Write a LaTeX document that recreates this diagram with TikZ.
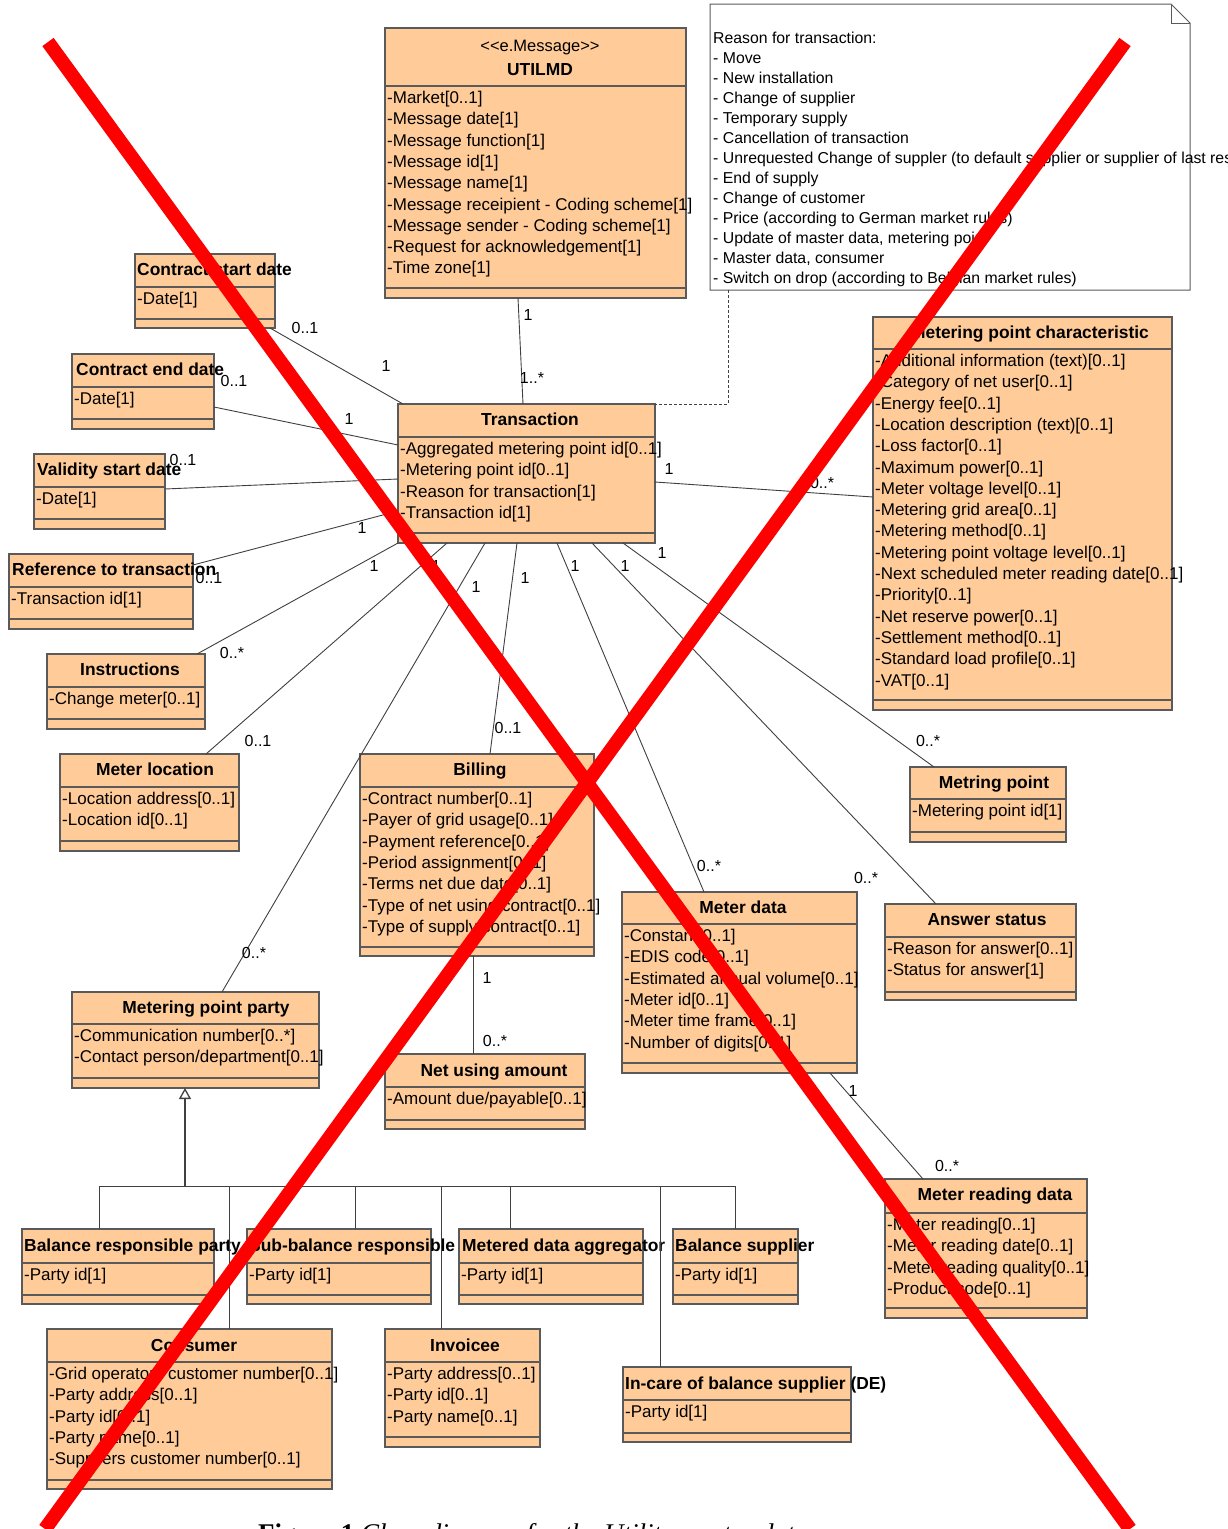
\documentclass[tikz,border=0pt]{standalone}
\usepackage{fontspec}
\setmainfont{Liberation Sans}
\newfontfamily\capfont{Liberation Serif}
\usetikzlibrary{arrows.meta,calc}
\definecolor{peach}{HTML}{FFCC99}
\definecolor{boxline}{HTML}{5A5A5A}
\definecolor{connline}{HTML}{404040}
\tikzset{
  clsbox/.style={draw=boxline, fill=peach, line width=1.2pt, inner sep=0pt, outer sep=0pt},
  sepline/.style={draw=boxline, line width=1.2pt},
  attr/.style={anchor=base west, inner sep=0pt, font=\fontsize{17}{20}\selectfont},
  ttl/.style={anchor=base, inner sep=0pt, font=\bfseries\fontsize{17.4}{20}\selectfont},
  ttlL/.style={anchor=base west, inner sep=0pt, font=\bfseries\fontsize{17.4}{20}\selectfont},
  mult/.style={inner sep=0pt, font=\fontsize{16}{18}\selectfont},
  conn/.style={draw=connline, line width=0.9pt},
  notebox/.style={draw=boxline, line width=1pt, fill=white},
  notetxt/.style={anchor=base west, inner sep=0pt, font=\fontsize{15.8}{18}\selectfont},
  redx/.style={draw=red, line width=14pt},
}
% #1 name, #2 x1, #3 y1, #4 x2, #5 y2, #6 header separator y, #7 bottom separator y, #8 attributes
\newcommand{\umlcls}[8]{%
  \node[clsbox, minimum width={(#4-#2)*1pt}, minimum height={(#5-#3)*1pt}] (#1) at ({(#2+#4)/2},{(#3+#5)/2}) {};
  \draw[sepline] (#2,#6) -- (#4,#6) (#2,#7) -- (#4,#7);
  \foreach \atxt [count=\ai from 0] in {#8} {\node[attr] (#1-a\ai) at (#2+2,{#6+17.5+\ai*21.3}) {\atxt};}
}
\begin{document}
\begin{tikzpicture}[x=1pt,y=-1pt]
\useasboundingbox (0,0) rectangle (1228,1529);
\clip (0,0) rectangle (1228,1529);
\fill[white] (0,0) rectangle (1228,1529);

% ---------- note ----------
\node[inner sep=0pt, outer sep=0pt, minimum width=480pt, minimum height=286pt] (note) at (950,147) {};
\draw[notebox] (note.south west) -- (note.north west) -- ([xshift=-19pt]note.north east)
  -- ([yshift=-19pt]note.north east) -- (note.south east) -- cycle;
\draw[notebox, fill=none] ([xshift=-19pt]note.north east) -- ([xshift=-19pt,yshift=-19pt]note.north east) -- ([yshift=-19pt]note.north east);
\foreach \ntxt [count=\ni from 0] in {
  {Reason for transaction:},
  {- Move},
  {- New installation},
  {- Change of supplier},
  {- Temporary supply},
  {- Cancellation of transaction},
  {- Unrequested Change of suppler (to default supplier or supplier of last resort)},
  {- End of supply},
  {- Change of customer},
  {- Price (according to German market rules)},
  {- Update of master data, metering point},
  {- Master data, consumer},
  {- Switch on drop (according to Belgian market rules)}}
  {\node[notetxt] (note-l\ni) at (713,{43+\ni*20}) {\ntxt};}

% ---------- classes ----------
\umlcls{utilmd}{385}{28}{686}{298}{86}{288}{-Market[0..1],-Message date[1],-Message function[1],-Message id[1],-Message name[1],-Message receipient - Coding scheme[1],-Message sender - Coding scheme[1],-Request for acknowledgement[1],-Time zone[1]}
\node[anchor=base, inner sep=0pt, font=\fontsize{16.5}{18}\selectfont] (utilmd-s) at (540,51) {<\kern0pt<e.Message>\kern0pt>};
\node[ttl] (utilmd-t) at (540,75) {UTILMD};

\umlcls{trans}{398}{404}{655}{543}{437}{533}{-Aggregated metering point id[0..1],-Metering point id[0..1],-Reason for transaction[1],-Transaction id[1]}
\node[ttl] (trans-t) at (530,425) {Transaction};

\umlcls{csd}{135}{254}{275}{328}{287}{319}{-Date[1]}
\node[ttlL] (csd-t) at (137,275) {Contract start date};

\umlcls{ced}{72}{354}{214}{429}{387}{419}{-Date[1]}
\node[ttlL] (ced-t) at (76,375) {Contract end date};

\umlcls{vsd}{34}{454}{165}{529}{487}{519}{-Date[1]}
\node[ttlL] (vsd-t) at (37,475) {Validity start date};

\umlcls{rtt}{9}{554}{193}{629}{587}{619}{-Transaction id[1]}
\node[ttlL] (rtt-t) at (12,575) {Reference to transaction};

\umlcls{instr}{47}{654}{205}{729}{687}{719}{-Change meter[0..1]}
\node[ttl] (instr-t) at (130,675) {Instructions};

\umlcls{mloc}{60}{754}{239}{851}{787}{841}{-Location address[0..1],-Location id[0..1]}
\node[ttl] (mloc-t) at (155,775) {Meter location};

\umlcls{billing}{360}{754}{594}{956}{787}{947}{-Contract number[0..1],-Payer of grid usage[0..1],-Payment reference[0..1],-Period assignment[0..1],-Terms net due date[0..1],-Type of net using contract[0..1],-Type of supply contract[0..1]}
\node[ttl] (billing-t) at (480,775) {Billing};

\umlcls{mpc}{873}{317}{1172}{710}{349}{700}{-Additional information (text)[0..1],-Category of net user[0..1],-Energy fee[0..1],-Location description (text)[0..1],-Loss factor[0..1],-Maximum power[0..1],-Meter voltage level[0..1],-Metering grid area[0..1],-Metering method[0..1],-Metering point voltage level[0..1],-Next scheduled meter reading date[0..1],-Priority[0..1],-Net reserve power[0..1],-Settlement method[0..1],-Standard load profile[0..1],-VAT[0..1]}
\node[ttl] (mpc-t) at (1030,338) {Metering point characteristic};

\umlcls{mp}{910}{767}{1066}{842}{799}{832}{-Metering point id[1]}
\node[ttl] (mp-t) at (994,788) {Metring point};

\umlcls{ans}{885}{904}{1076}{1000}{937}{992}{-Reason for answer[0..1],-Status for answer[1]}
\node[ttl] (ans-t) at (987,925) {Answer status};

\umlcls{mdata}{622}{892}{857}{1073}{924}{1063}{-Constant[0..1],-EDIS code[0..1],-Estimated annual volume[0..1],-Meter id[0..1],-Meter time frame[0..1],-Number of digits[0..1]}
\node[ttl] (mdata-t) at (743,913) {Meter data};

\umlcls{mrd}{885}{1179}{1087}{1318}{1213}{1308}{-Meter reading[0..1],-Meter reading date[0..1],-Meter reading quality[0..1],-Product code[0..1]}
\node[ttl] (mrd-t) at (995,1200) {Meter reading data};

\umlcls{mpp}{72}{992}{319}{1088}{1024}{1078}{-Communication number[0..*],-Contact person/department[0..1]}
\node[ttl] (mpp-t) at (206,1013) {Metering point party};

\umlcls{nua}{385}{1054}{585}{1129}{1087}{1120}{-Amount due/payable[0..1]}
\node[ttl] (nua-t) at (494,1076) {Net using amount};

\umlcls{brp}{22}{1229}{214}{1304}{1263}{1295}{-Party id[1]}
\node[ttlL] (brp-t) at (24,1251) {Balance responsible party};

\umlcls{sbr}{247}{1229}{431}{1304}{1263}{1295}{-Party id[1]}
\node[ttlL] (sbr-t) at (249,1251) {Sub-balance responsible};

\umlcls{mda}{459}{1229}{643}{1304}{1263}{1295}{-Party id[1]}
\node[ttlL] (mda-t) at (462,1251) {Metered data aggregator};

\umlcls{bs}{673}{1229}{798}{1304}{1263}{1295}{-Party id[1]}
\node[ttlL] (bs-t) at (675,1251) {Balance supplier};

\umlcls{cons}{47}{1329}{332}{1489}{1362}{1480}{-Grid operators customer number[0..1],-Party address[0..1],-Party id[0..1],-Party name[0..1],-Suppliers customer number[0..1]}
\node[ttl] (cons-t) at (194,1351) {Consumer};

\umlcls{inv}{385}{1329}{540}{1447}{1362}{1437}{-Party address[0..1],-Party id[0..1],-Party name[0..1]}
\node[ttl] (inv-t) at (465,1351) {Invoicee};

\umlcls{incare}{623}{1367}{851}{1442}{1400}{1433}{-Party id[1]}
\node[ttlL] (incare-t) at (625,1389) {In-care of balance supplier (DE)};

% ---------- connectors ----------
\draw[conn, dash pattern=on 3pt off 2pt] ($(note.south west)+(18,0)$) |- (trans.north east);
\draw[conn] ($(utilmd.south west)+(133,0)$) -- ($(trans.north west)+(125,0)$);
\draw[conn] ($(csd.south west)+(135,0)$) -- ($(trans.north west)+(5,0)$);
\draw[conn] ($(ced.north east)+(0,53)$) -- ($(trans.north west)+(0,41)$);
\draw[conn] ($(vsd.north east)+(0,35)$) -- ($(trans.north west)+(0,75)$);
\draw[conn] ($(rtt.north east)+(0,11)$) -- ($(trans.north west)+(0,107)$);
\draw[conn] ($(instr.north west)+(150,0)$) -- (trans.south west);
\draw[conn] ($(mloc.north west)+(146,0)$) -- ($(trans.south west)+(49,0)$);
\draw[conn] ($(mpp.north west)+(150,0)$) -- ($(trans.south west)+(87,0)$);
\draw[conn] ($(billing.north west)+(130,0)$) -- ($(trans.south west)+(119,0)$);
\draw[conn] ($(mdata.north west)+(82,0)$) -- ($(trans.south west)+(159,0)$);
\draw[conn] ($(ans.north west)+(51,0)$) -- ($(trans.south west)+(194,0)$);
\draw[conn] ($(mp.north west)+(24,0)$) -- ($(trans.south west)+(225,0)$);
\draw[conn] ($(trans.north east)+(0,78)$) -- ($(mpc.north west)+(0,180)$);
\draw[conn] ($(billing.south west)+(113,0)$) -- ($(nua.north west)+(88,0)$);
\draw[conn] ($(mdata.south west)+(208,0)$) -- ($(mrd.north west)+(38,0)$);

% generalization tree
\coordinate (gj) at (185,1186);
\draw[draw=connline, line width=1.3pt, -{Triangle[open, width=12pt, length=11pt]}] (gj) -- ($(mpp.south west)+(113,0)$);
\draw[conn] ($(brp.north west)+(77,0)$) |- (gj);
\draw[conn] ($(cons.north west)+(182,0)$) |- (gj);
\draw[conn] ($(sbr.north west)+(108,0)$) |- (gj);
\draw[conn] ($(inv.north west)+(56,0)$) |- (gj);
\draw[conn] ($(mda.north west)+(51,0)$) |- (gj);
\draw[conn] ($(incare.north west)+(37,0)$) |- (gj);
\draw[conn] ($(bs.north west)+(62,0)$) |- (gj);

% ---------- multiplicities ----------
\node[mult] (m1) at (528,315) {1};
\node[mult] (m2) at (532,378) {1..*};
\node[mult] (m3) at (305,328) {0..1};
\node[mult] (m4) at (386,366) {1};
\node[mult] (m5) at (234,381) {0..1};
\node[mult] (m6) at (349,419) {1};
\node[mult] (m7) at (183,460) {0..1};
\node[mult] (m8) at (209,578) {0..1};
\node[mult] (m9) at (362,528) {1};
\node[mult] (m10) at (232,653) {0..*};
\node[mult] (m11) at (374,566) {1};
\node[mult] (m12) at (258,741) {0..1};
\node[mult] (m13) at (436,566) {1};
\node[mult] (m14) at (254,953) {0..*};
\node[mult] (m15) at (476,587) {1};
\node[mult] (m16) at (508,728) {0..1};
\node[mult] (m17) at (525,578) {1};
\node[mult] (m18) at (709,866) {0..*};
\node[mult] (m19) at (575,566) {1};
\node[mult] (m20) at (866,878) {0..*};
\node[mult] (m21) at (625,566) {1};
\node[mult] (m22) at (928,741) {0..*};
\node[mult] (m23) at (662,553) {1};
\node[mult] (m24) at (669,469) {1};
\node[mult] (m25) at (822,483) {0..*};
\node[mult] (m26) at (487,978) {1};
\node[mult] (m27) at (495,1041) {0..*};
\node[mult] (m28) at (853,1091) {1};
\node[mult] (m29) at (947,1166) {0..*};

% ---------- caption ----------
\node[anchor=base west, inner sep=0pt, font=\capfont\fontsize{27}{30}\selectfont] (cap) at (258,1542) {\textbf{Figure 1} \textit{Class diagram for the Utility master data}};

% ---------- red cross ----------
\draw[redx] (48,42) -- (1130,1529);
\draw[redx] (1125,42) -- (45,1529);
\end{tikzpicture}
\end{document}
